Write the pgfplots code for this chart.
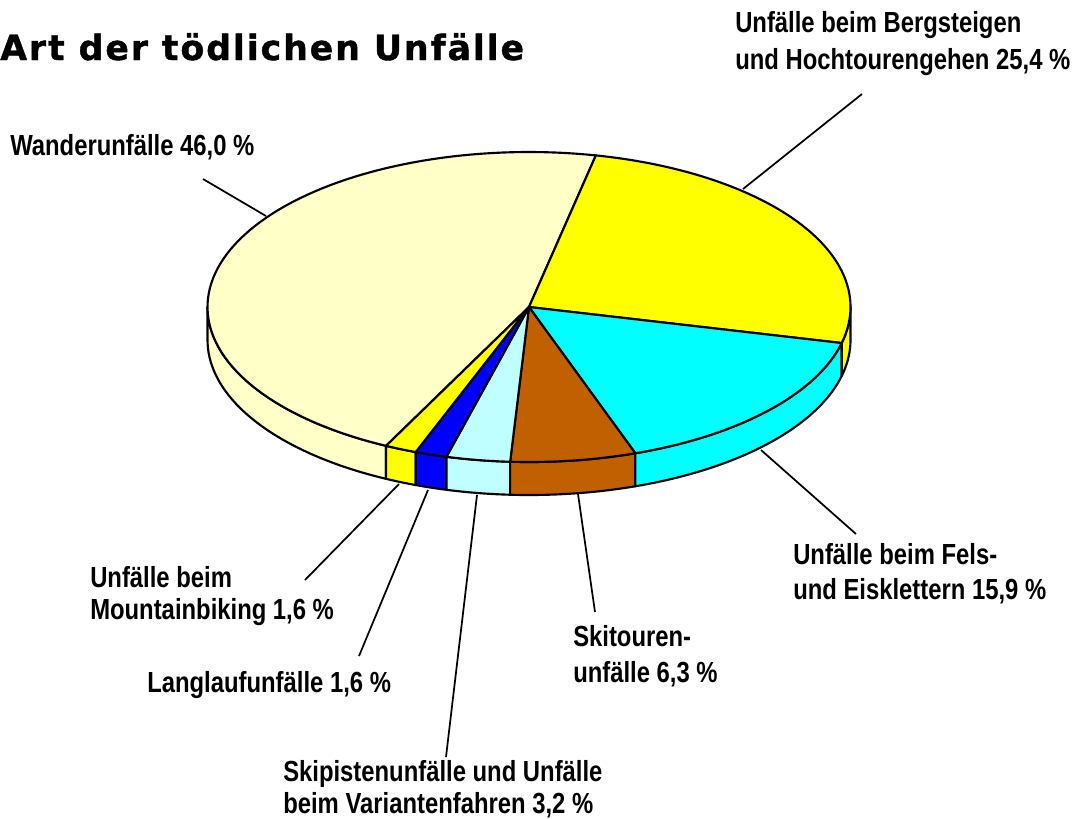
\documentclass[border=0pt]{standalone}
\usepackage{pgfplots}
\pgfplotsset{compat=1.18}
\usepackage{fontspec}
\setmainfont{Liberation Sans}
\newfontfamily\lbl{Liberation Sans}[FakeStretch=0.82]
\newfontfamily\ttl{DejaVu Sans}[LetterSpace=5.6, BoldFeatures={FakeBold=1.2}]
\definecolor{cWander}{HTML}{FFFFC8}
\definecolor{cBerg}{HTML}{FFFF00}
\definecolor{cFels}{HTML}{00FFFF}
\definecolor{cSki}{HTML}{C06000}
\definecolor{cPiste}{HTML}{C0FFFF}
\definecolor{cLang}{HTML}{0000FF}
\definecolor{cMTB}{HTML}{FFFF00}
% shares in percent
\def\pBerg{25.4}
\def\pFels{15.9}
\def\pSki{6.3}
\def\pPiste{3.2}
\def\pLang{1.6}
\def\pMTB{1.6}
\def\pWander{46.0}
% geometry (pixels)
\def\cx{529}\def\cy{307}\def\rx{321.5}\def\ry{155}\def\dep{33}
\pgfmathsetmacro\aA{78}
\pgfmathsetmacro\aB{\aA-3.6*\pBerg}
\pgfmathsetmacro\aC{\aB-3.6*\pFels}
\pgfmathsetmacro\aD{\aC-3.6*\pSki}
\pgfmathsetmacro\aE{\aD-3.6*\pPiste}
\pgfmathsetmacro\aF{\aE-3.6*\pLang}
\pgfmathsetmacro\aG{\aF-3.6*\pMTB}
\pgfmathsetmacro\aH{\aG-3.6*\pWander}
\newcommand\sideband[3]{%
  \addplot[fill=#3, draw=black, line width=1.6pt, line join=round,
    samples at={0,1,...,40,100,101,...,140}, variable=\u]
    ({\cx+\rx*cos((#1)+min(\u,140-\u)*((#2)-(#1))/40)},
     {\cy-\ry*sin((#1)+min(\u,140-\u)*((#2)-(#1))/40)+\dep*(\u>50)}) -- cycle;}
\newcommand\sector[3]{%
  \addplot[fill=#3, draw=black, line width=1.6pt, line join=round,
    domain=#1:#2, samples=90, variable=\t]
    ({\cx+\rx*cos(\t)},{\cy-\ry*sin(\t)}) -- (axis cs:\cx,\cy) -- cycle;}
\newcommand\lab[3]{\node[anchor=base west, inner sep=0pt,
  font=\lbl\bfseries\fontsize{21.8}{24}\selectfont] at (axis cs:#1,#2) {#3};}
\begin{document}
\begin{tikzpicture}
\begin{axis}[hide axis, scale only axis, width=810.75pt, height=613.5pt,
  xmin=0, xmax=1081, ymin=0, ymax=818, y dir=reverse, clip=false]
% side faces (front half)
\sideband{-180}{\aG}{cWander}
\sideband{\aG}{\aF}{cMTB}
\sideband{\aF}{\aE}{cLang}
\sideband{\aE}{\aD}{cPiste}
\sideband{\aD}{\aC}{cSki}
\sideband{\aC}{\aB}{cFels}
\sideband{\aB}{0}{cBerg}
% top faces
\sector{\aH}{\aG}{cWander}
\sector{\aB}{\aA}{cBerg}
\sector{\aC}{\aB}{cFels}
\sector{\aD}{\aC}{cSki}
\sector{\aE}{\aD}{cPiste}
\sector{\aF}{\aE}{cLang}
\sector{\aG}{\aF}{cMTB}
% leader lines
\addplot[black, line width=1.3pt] coordinates {(203,179) (266,216)};
\addplot[black, line width=1.3pt] coordinates {(862,94) (743,189)};
\addplot[black, line width=1.3pt] coordinates {(856,534) (761,450)};
\addplot[black, line width=1.3pt] coordinates {(595,612) (578,494)};
\addplot[black, line width=1.3pt] coordinates {(446,757) (477,495)};
\addplot[black, line width=1.3pt] coordinates {(359,656) (428,490)};
\addplot[black, line width=1.3pt] coordinates {(305,580) (399,484)};
% title
\node[anchor=base west, inner sep=0pt, font=\ttl\bfseries\fontsize{26}{30}\selectfont]
  at (axis cs:0,60) {Art der tödlichen Unfälle};
% labels
\lab{10}{155}{Wanderunfälle 46,0 \%}
\lab{735}{32}{Unfälle beim Bergsteigen}
\lab{735}{69}{und Hochtourengehen 25,4 \%}
\lab{793}{564}{Unfälle beim Fels-}
\lab{793}{599}{und Eisklettern 15,9 \%}
\lab{573}{646}{Skitouren-}
\lab{573}{682}{unfälle 6,3 \%}
\lab{90}{587}{Unfälle beim}
\lab{90}{619}{Mountainbiking 1,6 \%}
\lab{147}{692}{Langlaufunfälle 1,6 \%}
\lab{283}{781}{Skipistenunfälle und Unfälle}
\lab{283}{813}{beim Variantenfahren 3,2 \%}
\end{axis}
\pgfresetboundingbox
\useasboundingbox (0,0) rectangle (810.75pt,613.5pt);
\end{tikzpicture}
\end{document}
